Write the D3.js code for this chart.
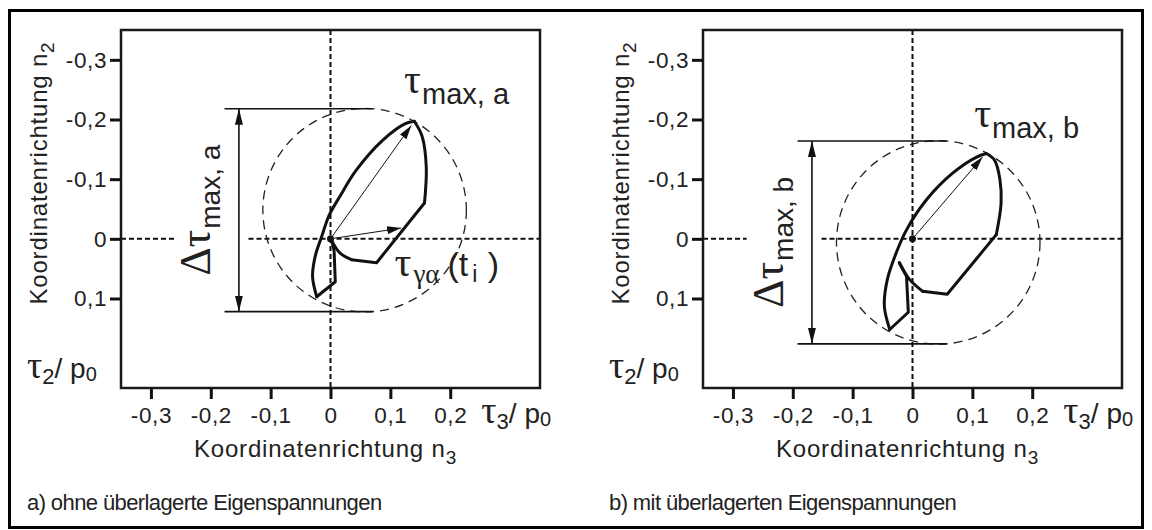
<!DOCTYPE html>
<html>
<head>
<meta charset="utf-8">
<script src="https://cdn.jsdelivr.net/npm/d3@7"></script>
<style>
  body { margin: 0; background: #fff; }
  svg { display: block; }
  text { fill: #222; }
</style>
</head>
<body>
<script>
const W = 1152, H = 530;

// axis values (tau / p0)
const xTicks = [-0.3, -0.2, -0.1, 0, 0.1, 0.2];
const yTicks = [-0.3, -0.2, -0.1, 0, 0.1];
const xDomain = [-0.35, 0.35];
const yDomain = [-0.35, 0.25];

// panel a: ohne Eigenspannungen
const aArcUp = [[-0.023, 0.097], [-0.030, 0.063], [-0.025, 0.027], [-0.015, -0.003], [-0.002, -0.040],
  [0.015, -0.070], [0.043, -0.115], [0.087, -0.165], [0.125, -0.193], [0.140, -0.197]];
const aArcDown = [[0.140, -0.197], [0.153, -0.172], [0.160, -0.120], [0.157, -0.060]];
const aPoly = [[0.157, -0.060], [0.077, 0.040], [0.035, 0.035]];
const aCurl = [[0.035, 0.035], [0.016, 0.024], [0.002, 0.003]];
const aHook = [[0.002, 0.003], [0.006, 0.020], [0.008, 0.072], [-0.023, 0.097]];
const aCircle = [0.057, -0.048, 0.170];
const aVectors = [[0.135, -0.190], [0.118, -0.018]];
const aDimX = -0.153, aDimLine = [-0.177, 0.070];
const aZeroLine = [[-0.35, -0.26], [-0.137, 0.35]];

// panel b: mit Eigenspannungen
const bArcUp = [[-0.038, 0.152], [-0.047, 0.113], [-0.042, 0.068], [-0.027, 0.023], [-0.010, -0.015],
  [0.023, -0.065], [0.067, -0.110], [0.107, -0.137], [0.123, -0.143]];
const bArcDown = [[0.123, -0.143], [0.137, -0.132], [0.146, -0.100], [0.148, -0.060], [0.140, -0.007]];
const bPoly = [[0.140, -0.007], [0.058, 0.093], [0.017, 0.088]];
const bCurl = [[0.017, 0.088], [-0.005, 0.068], [-0.022, 0.040]];
const bHook = [[-0.022, 0.040], [-0.010, 0.063], [-0.007, 0.123], [-0.038, 0.152]];
const bCircle = [0.043, 0.006, 0.170];
const bVectors = [[0.117, -0.137]];
const bDimX = -0.168, bDimLine = [-0.192, 0.057];
const bZeroLine = [[-0.35, -0.277], [-0.152, 0.35]];

const captions = ['a) ohne überlagerte Eigenspannungen', 'b) mit überlagerten Eigenspannungen'];

const SANS = 'Liberation Sans, Arial, sans-serif';
const SERIF = 'Liberation Serif, Times New Roman, serif';

const svg = d3.select('body').append('svg').attr('width', W).attr('height', H);

const defs = svg.append('defs');
defs.append('marker').attr('id', 'thin').attr('viewBox', '0 0 14 8')
  .attr('refX', 14).attr('refY', 4).attr('markerWidth', 14).attr('markerHeight', 8)
  .attr('markerUnits', 'userSpaceOnUse').attr('orient', 'auto')
  .append('path').attr('d', 'M0,0 L14,4 L0,8 Z').attr('fill', '#111');
defs.append('marker').attr('id', 'dim').attr('viewBox', '0 0 16 8')
  .attr('refX', 16).attr('refY', 4).attr('markerWidth', 16).attr('markerHeight', 8)
  .attr('markerUnits', 'userSpaceOnUse').attr('orient', 'auto-start-reverse')
  .append('path').attr('d', 'M0,0 L16,4 L0,8 Z').attr('fill', '#111');

// outer frame
svg.append('rect').attr('x', 9.5).attr('y', 10.5).attr('width', 1133).attr('height', 517)
  .attr('fill', 'none').attr('stroke', '#000').attr('stroke-width', 3);

function fmt(d) {
  return d === 0 ? '0' : d3.format('.1f')(d).replace('.', ',').replace('\u2212', '-');
}

function rich(g, x, y, parts, attrs) {
  const t = g.append('text').attr('x', x).attr('y', y);
  if (attrs) Object.keys(attrs).forEach(k => t.attr(k, attrs[k]));
  parts.forEach(p => {
    t.append('tspan').text(p.t)
      .attr('font-family', p.f || SANS)
      .attr('font-size', p.s)
      .attr('dy', p.dy || 0)
      .attr('dx', p.dx || 0);
  });
  return t;
}

function drawPanel(left, P) {
  const g = svg.append('g');
  const x = d3.scaleLinear().domain(xDomain).range([left, left + 419]);
  const y = d3.scaleLinear().domain(yDomain).range([30, 388]);
  const line = d3.line().x(d => x(d[0])).y(d => y(d[1]));

  // zero lines
  P.zero.forEach(s => {
    g.append('line').attr('x1', x(s[0])).attr('x2', x(s[1])).attr('y1', y(0)).attr('y2', y(0))
      .attr('stroke', '#111').attr('stroke-width', 2).attr('stroke-dasharray', '5,3');
  });
  g.append('line').attr('x1', x(0)).attr('x2', x(0)).attr('y1', y(yDomain[0])).attr('y2', y(yDomain[1]))
    .attr('stroke', '#111').attr('stroke-width', 2).attr('stroke-dasharray', '5,3');

  // dashed circle
  g.append('circle').attr('cx', x(P.circle[0])).attr('cy', y(P.circle[1]))
    .attr('r', x(P.circle[2]) - x(0))
    .attr('fill', 'none').attr('stroke', '#222').attr('stroke-width', 1.3).attr('stroke-dasharray', '9,6');

  // dimension lines
  const top = P.circle[1] - P.circle[2], bot = P.circle[1] + P.circle[2];
  [top, bot].forEach(v => {
    g.append('line').attr('x1', x(P.dimLine[0])).attr('x2', x(P.dimLine[1]))
      .attr('y1', y(v)).attr('y2', y(v)).attr('stroke', '#111').attr('stroke-width', 1.6);
  });
  g.append('line').attr('x1', x(P.dimX)).attr('x2', x(P.dimX)).attr('y1', y(top)).attr('y2', y(bot))
    .attr('stroke', '#111').attr('stroke-width', 1.6)
    .attr('marker-start', 'url(#dim)').attr('marker-end', 'url(#dim)');

  // trajectory
  const smooth = d3.line().x(d => x(d[0])).y(d => y(d[1])).curve(d3.curveCatmullRom.alpha(0.5));
  [P.arcUp, P.arcDown, P.curl].forEach(pts => {
    g.append('path').attr('d', smooth(pts)).attr('fill', 'none').attr('stroke', '#111')
      .attr('stroke-width', 3).attr('stroke-linejoin', 'round').attr('stroke-linecap', 'round');
  });
  [P.poly, P.hook].forEach(pts => {
    g.append('path').attr('d', line(pts)).attr('fill', 'none').attr('stroke', '#111')
      .attr('stroke-width', 3).attr('stroke-linejoin', 'round').attr('stroke-linecap', 'round');
  });

  // vectors
  P.vectors.forEach(v => {
    g.append('line').attr('x1', x(0)).attr('y1', y(0)).attr('x2', x(v[0])).attr('y2', y(v[1]))
      .attr('stroke', '#111').attr('stroke-width', 1).attr('marker-end', 'url(#thin)');
  });
  g.append('circle').attr('cx', x(0)).attr('cy', y(0)).attr('r', 3.5).attr('fill', '#111');

  // frame
  g.append('rect').attr('x', left).attr('y', 30).attr('width', 419).attr('height', 358)
    .attr('fill', 'none').attr('stroke', '#1a1a1a').attr('stroke-width', 2.5);

  // axes
  const ya = g.append('g').attr('transform', `translate(${left},0)`)
    .call(d3.axisLeft(y).tickValues(yTicks).tickFormat(fmt).tickSize(11).tickSizeOuter(0).tickPadding(3));
  const xa = g.append('g').attr('transform', 'translate(0,388)')
    .call(d3.axisBottom(x).tickValues(xTicks).tickFormat(fmt).tickSize(11).tickSizeOuter(0).tickPadding(8));
  [ya, xa].forEach(a => {
    a.select('.domain').remove();
    a.selectAll('.tick line').attr('stroke', '#111').attr('stroke-width', 3);
    a.selectAll('.tick text').attr('font-family', SANS).attr('font-size', 22.5)
      .attr('letter-spacing', 0.6).attr('fill', '#222');
  });

  // axis titles
  rich(g, x(0.252), 423, [
    { t: 'τ', f: SERIF, s: 38 }, { t: '3', s: 22, dy: 6 }, { t: '/ p', s: 28, dy: -6 }, { t: '0', s: 20, dy: 3 }
  ]);
  rich(g, x(0) - 5, 457, [
    { t: 'Koordinatenrichtung n', s: 24 }, { t: '3', s: 19, dy: 7 }
  ], { 'letter-spacing': 0.8, 'text-anchor': 'middle' });
  rich(g, 0, 0, [
    { t: 'Koordinatenrichtung n', s: 24 }, { t: '2', s: 19, dy: 7 }
  ], { 'letter-spacing': 0.8, 'text-anchor': 'middle', transform: `translate(${left - 74},173) rotate(-90)` });
  rich(g, left - 94, 378, [
    { t: 'τ', f: SERIF, s: 38 }, { t: '2', s: 22, dy: 6 }, { t: '/ p', s: 28, dy: -6 }, { t: '0', s: 20, dy: 3 }
  ]);

  // labels
  rich(g, x(P.maxLabel[0]), y(P.maxLabel[1]), [
    { t: 'τ', f: SERIF, s: 42 }, { t: P.maxSub, s: 29, dy: 11, dx: 1 }
  ]);
  const mid = (top + bot) / 2;
  rich(g, 0, 0, [
    { t: 'Δτ', f: SERIF, s: 44 }, { t: P.maxSub, s: 28, dy: 10, dx: 1 }
  ], { 'text-anchor': 'middle', transform: `translate(${x(P.dimX) - 29},${y(mid)}) rotate(-90)` });
  if (P.tauLabel) {
    rich(g, x(P.tauLabel[0]), y(P.tauLabel[1]), [
      { t: 'τ', f: SERIF, s: 42 }, { t: 'γα', f: SERIF, s: 27, dy: 7, dx: 2 },
      { t: '(t', s: 34, dy: -7, dx: 8 }, { t: 'i', s: 23, dy: 6, dx: 4 }, { t: ' )', s: 34, dy: -6, dx: 1 }
    ]);
  }

  // caption
  g.append('text').attr('x', left - 94).attr('y', 510).attr('font-family', SANS).attr('font-size', 22)
    .attr('letter-spacing', -0.6).attr('fill', '#222').text(P.caption);
}

drawPanel(121, {
  arcUp: aArcUp, arcDown: aArcDown, poly: aPoly, curl: aCurl, hook: aHook,
  circle: aCircle, vectors: aVectors, dimX: aDimX, dimLine: aDimLine, zero: aZeroLine,
  maxLabel: [0.123, -0.245], maxSub: 'max, a', tauLabel: [0.107, 0.063], caption: captions[0]
});
drawPanel(703, {
  arcUp: bArcUp, arcDown: bArcDown, poly: bPoly, curl: bCurl, hook: bHook,
  circle: bCircle, vectors: bVectors, dimX: bDimX, dimLine: bDimLine, zero: bZeroLine,
  maxLabel: [0.103, -0.188], maxSub: 'max, b', tauLabel: null, caption: captions[1]
});
</script>
</body>
</html>
